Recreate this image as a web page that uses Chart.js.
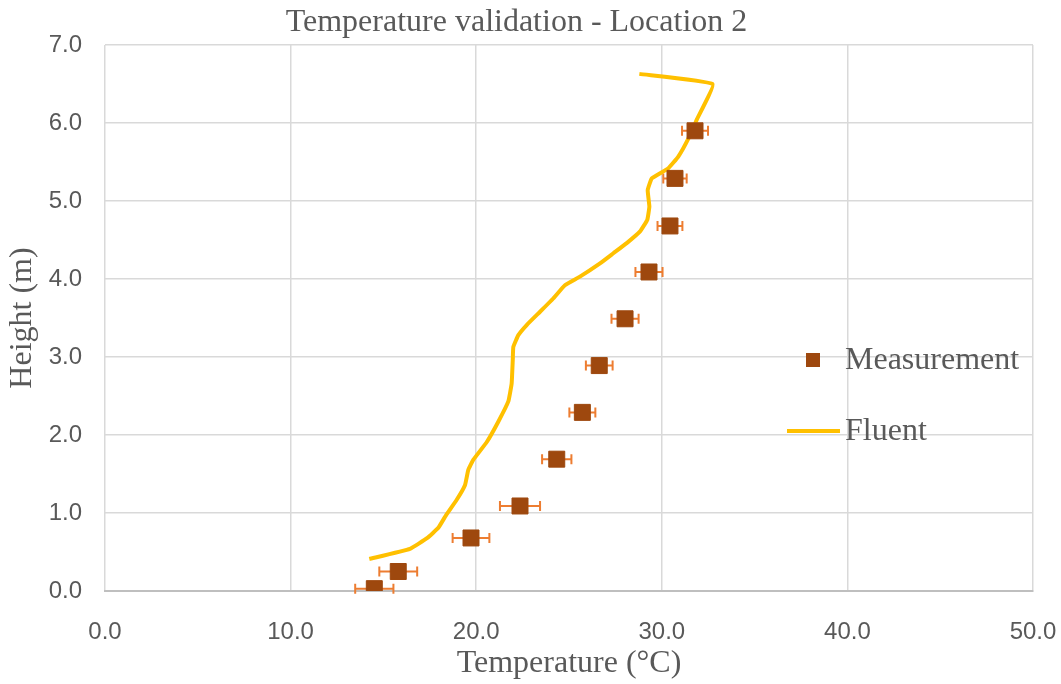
<!DOCTYPE html>
<html>
<head>
<meta charset="utf-8">
<script src="https://cdn.jsdelivr.net/npm/chart.js@4/dist/chart.umd.min.js"></script>
<style>
  html, body { margin: 0; padding: 0; background: #fff; }
</style>
</head>
<body>
<canvas id="tempChart" width="1061" height="684"></canvas>
<script>
// measured points (temperature in °C, height in m, +/- error)
const measTemp = [14.51, 15.80, 19.72, 22.36, 24.34, 25.72, 26.63, 28.02, 29.31, 30.44, 30.71, 31.79];
const measHeight = [0.03, 0.25, 0.68, 1.09, 1.69, 2.29, 2.89, 3.49, 4.09, 4.68, 5.29, 5.90];
const measErr = [1.03, 1.02, 0.99, 1.08, 0.79, 0.70, 0.72, 0.73, 0.73, 0.67, 0.63, 0.70];

// Fluent profile
const fluentTemp = [14.24, 16.43, 17.37, 17.96, 18.37, 18.95, 19.40, 19.57, 19.84, 20.57, 21.19, 21.73,
  21.91, 21.97, 22.00, 22.27, 22.72, 23.44, 24.15, 24.78, 25.59, 26.67, 27.39, 28.11, 28.83, 29.22,
  29.33, 29.24, 29.46, 30.35, 30.89, 31.43, 31.88, 32.74, 28.79];
const fluentHeight = [0.41, 0.54, 0.68, 0.81, 0.97, 1.17, 1.36, 1.55, 1.68, 1.91, 2.17, 2.43,
  2.66, 2.96, 3.13, 3.28, 3.41, 3.58, 3.75, 3.92, 4.03, 4.20, 4.33, 4.46, 4.61, 4.76,
  4.93, 5.14, 5.29, 5.42, 5.57, 5.80, 6.04, 6.50, 6.63];

const xTicks = [0, 10, 20, 30, 40, 50];
const yTicks = [0, 1, 2, 3, 4, 5, 6, 7];

const textColor = "#595959";
const serif = "'Liberation Serif', 'Times New Roman', serif";
const sans = "'Liberation Sans', Arial, sans-serif";

// horizontal error bars, drawn under the markers
const errorBars = {
  id: "errorBars",
  beforeDatasetsDraw(chart) {
    const ctx = chart.ctx;
    const xs = chart.scales.x, ys = chart.scales.y;
    ctx.save();
    ctx.strokeStyle = "#ED7D31";
    ctx.lineWidth = 2;
    for (let i = 0; i < measTemp.length; i++) {
      const y = ys.getPixelForValue(measHeight[i]);
      const x1 = xs.getPixelForValue(measTemp[i] - measErr[i]);
      const x2 = xs.getPixelForValue(measTemp[i] + measErr[i]);
      ctx.beginPath();
      ctx.moveTo(x1, y); ctx.lineTo(x2, y);
      ctx.moveTo(x1, y - 5); ctx.lineTo(x1, y + 5);
      ctx.moveTo(x2, y - 5); ctx.lineTo(x2, y + 5);
      ctx.stroke();
    }
    ctx.restore();
  }
};

// legend sits inside the plot on the right, like the Excel original
const sideLegend = {
  id: "sideLegend",
  afterDraw(chart) {
    const ctx = chart.ctx;
    const ds = chart.data.datasets;
    ctx.save();
    ctx.font = "32px " + serif;
    ctx.textBaseline = "middle";
    ctx.textAlign = "left";

    ctx.fillStyle = ds[0].backgroundColor;
    ctx.fillRect(806, 353, 14, 14);
    ctx.fillStyle = textColor;
    ctx.fillText(ds[0].label, 845, 361);

    ctx.strokeStyle = ds[1].borderColor;
    ctx.lineWidth = 4;
    ctx.beginPath();
    ctx.moveTo(787, 431); ctx.lineTo(840, 431);
    ctx.stroke();
    ctx.fillText(ds[1].label, 845, 432);
    ctx.restore();
  }
};

const ctx = document.getElementById("tempChart").getContext("2d");
new Chart(ctx, {
  type: "scatter",
  data: {
    datasets: [
      {
        label: "Measurement",
        data: measTemp.map((t, i) => ({ x: t, y: measHeight[i] })),
        backgroundColor: "#9E480E",
        borderColor: "#9E480E",
        borderWidth: 1,
        pointStyle: "rect",
        pointRadius: 11.3,
        pointHoverRadius: 11.3,
        order: 0
      },
      {
        label: "Fluent",
        data: fluentTemp.map((t, i) => ({ x: t, y: fluentHeight[i] })),
        showLine: true,
        borderColor: "#FFC000",
        backgroundColor: "#FFC000",
        borderWidth: 4,
        pointRadius: 0,
        tension: 0.1,
        order: 1
      }
    ]
  },
  options: {
    responsive: false,
    animation: false,
    devicePixelRatio: 1,
    layout: { padding: { left: 0, right: 28, top: 0, bottom: 0 } },
    plugins: {
      legend: { display: false },
      tooltip: { enabled: false },
      title: {
        display: true,
        text: "Temperature validation - Location 2",
        color: textColor,
        font: { family: serif, size: 32, weight: "normal" },
        padding: { top: 3, bottom: 3.6 }
      }
    },
    scales: {
      x: {
        type: "linear",
        min: 0,
        max: 50,
        afterBuildTicks: s => { s.ticks = xTicks.map(v => ({ value: v })); },
        afterFit: s => { s.height = 93; s.paddingLeft = 0; s.paddingRight = 0; },
        ticks: {
          color: textColor,
          font: { family: sans, size: 24 },
          padding: 27,
          callback: v => v.toFixed(1)
        },
        grid: { color: "#D9D9D9", lineWidth: 1.5, drawTicks: false },
        border: { color: "#BFBFBF", width: 2 },
        title: {
          display: true,
          text: "Temperature (°C)",
          color: textColor,
          font: { family: serif, size: 32 },
          padding: { top: 0, bottom: 1 }
        }
      },
      y: {
        type: "linear",
        min: 0,
        max: 7,
        afterBuildTicks: s => { s.ticks = yTicks.map(v => ({ value: v })); },
        afterFit: s => { s.width = 105; },
        ticks: {
          color: textColor,
          font: { family: sans, size: 24 },
          padding: 23,
          callback: v => v.toFixed(1)
        },
        grid: { color: "#D9D9D9", lineWidth: 1.5, drawTicks: false },
        border: { display: false },
        title: {
          display: true,
          text: "Height (m)",
          color: textColor,
          font: { family: serif, size: 32 },
          padding: { top: 3.8, bottom: 0 }
        }
      }
    }
  },
  plugins: [errorBars, sideLegend]
});
</script>
</body>
</html>
